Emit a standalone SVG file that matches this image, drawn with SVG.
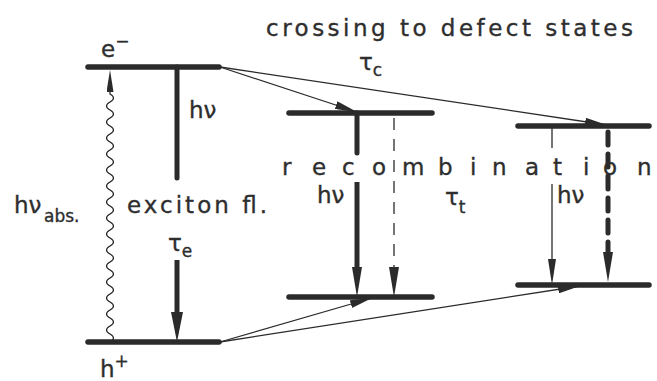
<svg xmlns="http://www.w3.org/2000/svg" width="657" height="381" viewBox="0 0 657 381">
<style>
.lvl{stroke:#2b2b2b;stroke-width:5.5;stroke-linecap:round;fill:none}
.thick{stroke:#2b2b2b;stroke-width:5;fill:none}
.thin{stroke:#2b2b2b;stroke-width:1.3;fill:none}
.t{font-family:"DejaVu Sans","Liberation Sans",sans-serif;fill:#2e2e2e;stroke:#2e2e2e;stroke-width:0.35;font-size:23px}
.s{font-size:17px}
</style>
<defs>
<marker id="hBig" viewBox="0 0 30 12" markerWidth="30" markerHeight="12" refX="0" refY="6" orient="auto" markerUnits="userSpaceOnUse"><path d="M0,0L30,6L0,12z" fill="#2b2b2b"/></marker>
<marker id="hMid" viewBox="0 0 30 10" markerWidth="30" markerHeight="10" refX="0" refY="5" orient="auto" markerUnits="userSpaceOnUse"><path d="M0,0L30,5L0,10z" fill="#2b2b2b"/></marker>
<marker id="hThin" viewBox="0 0 26 8" markerWidth="26" markerHeight="8" refX="0" refY="4" orient="auto" markerUnits="userSpaceOnUse"><path d="M0,0L26,4L0,8z" fill="#2b2b2b"/></marker>
<marker id="hWave" viewBox="0 0 22 7" markerWidth="22" markerHeight="7" refX="0" refY="3.5" orient="auto" markerUnits="userSpaceOnUse"><path d="M0,0L22,3.5L0,7z" fill="#2b2b2b"/></marker>
<marker id="hConn" viewBox="0 0 22 8" markerWidth="22" markerHeight="8" refX="22" refY="4" orient="auto" markerUnits="userSpaceOnUse"><path d="M0,0L22,4L0,8z" fill="#2b2b2b"/></marker>
</defs>

<text class="t" x="266" y="36" font-size="22" textLength="367" lengthAdjust="spacing">crossing to defect states</text>

<g id="exciton">
<line class="lvl" x1="88" y1="67" x2="219" y2="67"/>
<line class="lvl" x1="88" y1="342" x2="219" y2="342"/>
<text class="t" x="101" y="57">e<tspan class="s" dy="-10">−</tspan></text>
<text class="t" x="100" y="377">h<tspan class="s" dy="-10">+</tspan></text>
<path class="thin" d="M110,342 q7,-4 0,-8 t0,-8 t0,-8 t0,-8 t0,-8 t0,-8 t0,-8 t0,-8 t0,-8 t0,-8 t0,-8 t0,-8 t0,-8 t0,-8 t0,-8 t0,-8 t0,-8 t0,-8 t0,-8 t0,-8 t0,-8 t0,-8 t0,-8 t0,-8 t0,-8 t0,-8 t0,-8 t0,-8 t0,-8 t0,-8 t0,-8 l0,-2" stroke-width="1.8" marker-end="url(#hWave)"/>
<text class="t" x="14" y="213">hν<tspan class="s" x="44" y="222" font-size="18">abs.</tspan></text>
<line class="thick" x1="177" y1="67" x2="177" y2="178" stroke-linecap="round"/>
<text class="t" x="189" y="118">hν</text>
<text class="t" x="127" y="213" textLength="140" lengthAdjust="spacing">exciton fl.</text>
<text class="t" x="168" y="251">τ<tspan class="s" dy="6" font-size="19">e</tspan></text>
<line class="thick" x1="177" y1="260" x2="177" y2="312" marker-end="url(#hBig)"/>
</g>

<g id="defect1">
<line class="lvl" x1="289" y1="113" x2="432" y2="113"/>
<line class="lvl" x1="289" y1="297" x2="432" y2="297"/>
<line class="thick" x1="357" y1="113" x2="357" y2="153" stroke-linecap="round"/>
<line class="thick" x1="357" y1="182" x2="357" y2="267" marker-end="url(#hMid)"/>
<line class="thin" x1="394" y1="118" x2="394" y2="267" stroke-width="2.2" stroke-dasharray="12 9" marker-end="url(#hMid)"/>
<text class="t" x="317" y="203">hν</text>
</g>

<g id="defect2">
<line class="lvl" x1="518" y1="126" x2="649" y2="126"/>
<line class="lvl" x1="518" y1="285" x2="649" y2="285"/>
<line class="thin" x1="552" y1="126" x2="552" y2="148" stroke-width="1.5"/>
<line class="thin" x1="552" y1="184" x2="552" y2="259" stroke-width="1.5" marker-end="url(#hThin)"/>
<line class="thick" x1="608" y1="132" x2="608" y2="252" stroke-linecap="round" stroke-dasharray="13 9" marker-end="url(#hMid)"/>
<text class="t" x="557" y="203">hν</text>
</g>

<text class="t" font-size="21" x="282 312 342 372 402 438 470 492 525 553 583 603 637" y="175">recombination</text>
<text class="t" x="445" y="205">τ<tspan class="s" dy="8" font-size="18">t</tspan></text>
<text class="t" x="359" y="70">τ<tspan class="s" dy="6" font-size="19">c</tspan></text>

<g id="connectors">
<line class="thin" x1="220" y1="67" x2="357" y2="112" marker-end="url(#hConn)"/>
<line class="thin" x1="220" y1="67" x2="607" y2="125" marker-end="url(#hConn)"/>
<line class="thin" x1="220" y1="342" x2="372" y2="298" marker-end="url(#hConn)"/>
<line class="thin" x1="220" y1="342" x2="580" y2="286" marker-end="url(#hConn)"/>
</g>
</svg>
